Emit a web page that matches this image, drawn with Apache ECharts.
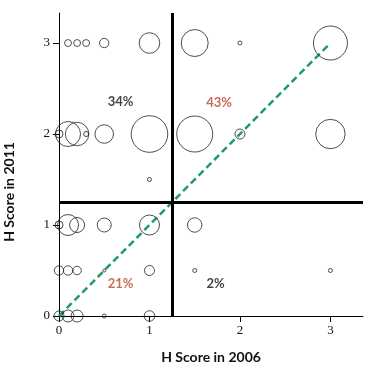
<!DOCTYPE html>
<html>
<head>
<meta charset="utf-8">
<script src="https://cdn.jsdelivr.net/npm/echarts@6/dist/echarts.min.js"></script>
<style>
html,body{margin:0;padding:0;background:#fff;}
#chart{width:375px;height:370px;}
</style>
</head>
<body>
<div id="chart"></div>
<script>
// H score 2006 (x), H score 2011 (y), bubble weight (relative frequency)
const bubbleX = [0.1,0.2,0.3,0.5,1,1.5,2,3,
                 0,0.1,0.2,0.3,0.5,1,1.5,2,3,
                 1,
                 0,0.1,0.2,0.5,1,1.5,
                 0,0.1,0.2,0.5,1,1.5,3,
                 0,0.1,0.2,0.5,1];
const bubbleY = [3,3,3,3,3,3,3,3,
                 2,2,2,2,2,2,2,2,2,
                 1.5,
                 1,1,1,1,1,1,
                 0.5,0.5,0.5,0.5,0.5,0.5,0.5,
                 0,0,0,0,0];
const bubbleW = [12,12,12,22,106,182,4,289,
                 16,156,137,6,86,335,324,25,216,
                 4,
                 16,110,56,49,100,52,
                 22,22,18,2,25,4,4,
                 25,36,36,4,28];
const diagonal = [[0,0],[3,3]];
const cutoff = 1.25;
const quadLabels = ['34%','43%','21%','2%'];
const quadX = [0.68,1.77,0.68,1.73];
const quadY = [2.35,2.34,0.35,0.35];
const quadHighlight = [false,true,true,false];
const tickValues = [0,1,2,3];
const xTitle = 'H Score in 2006';
const yTitle = 'H Score in 2011';

const RED = '#b8472f';
const bubbles = bubbleX.map((x,i)=>[x,bubbleY[i],bubbleW[i]]);
const quads = quadLabels.map((t,i)=>({value:[quadX[i],quadY[i]], name:t,
  label:{color: quadHighlight[i] ? RED : '#111'}}));

const chart = echarts.init(document.getElementById('chart'), null, {renderer:'canvas'});
const axisCommon = {
  type:'value', min:0, interval:1,
  axisLine:{show:true, onZero:false, lineStyle:{color:'#000', width:1}},
  axisTick:{show:true, length:6, customValues:tickValues, lineStyle:{color:'#000'}},
  axisLabel:{customValues:tickValues, fontFamily:'Liberation Serif', fontSize:13, color:'#111'},
  splitLine:{show:false}
};
chart.setOption({
  animation:false,
  grid:{left:59, right:12, top:13, bottom:54},
  xAxis: Object.assign({}, axisCommon, {
    max:3.36,
    axisLabel:Object.assign({}, axisCommon.axisLabel, {margin:8}),
    name:xTitle, nameLocation:'middle', nameGap:34,
    nameTextStyle:{fontFamily:'Lato', fontWeight:'bold', fontSize:14, color:'#111'}
  }),
  yAxis: Object.assign({}, axisCommon, {
    max:3.33,
    axisLabel:Object.assign({}, axisCommon.axisLabel, {margin:9})
  }),
  graphic:[{
    type:'text', x:9, y:192, rotation:Math.PI/2,
    style:{text:yTitle, fontFamily:'Lato', fontWeight:'bold', fontSize:14, fill:'#111',
      align:'center', verticalAlign:'middle'}
  }],
  series:[
    {
      type:'line', data:diagonal, symbol:'none', z:3,
      lineStyle:{color:'#1d9b6c', width:2.5, type:[7,4]}
    },
    {
      type:'scatter', data:bubbles, z:4,
      symbolSize:v=>2*Math.sqrt(v[2]),
      itemStyle:{color:'rgba(0,0,0,0)', borderColor:'#222', borderWidth:1},
      markLine:{
        silent:true, symbol:'none', label:{show:false},
        lineStyle:{color:'#000', width:3, type:'solid'},
        data:[{xAxis:cutoff},{yAxis:cutoff}]
      }
    },
    {
      type:'scatter', data:quads, symbolSize:0, z:5,
      label:{show:true, position:'inside', formatter:p=>p.name,
        fontFamily:'Lato', fontWeight:'bold', fontSize:13}
    }
  ]
});
</script>
</body>
</html>
